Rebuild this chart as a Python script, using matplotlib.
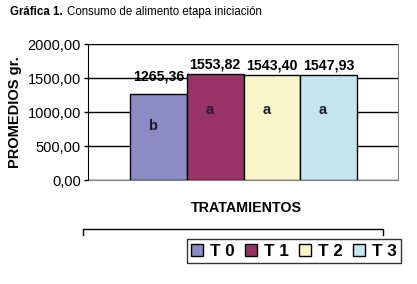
import matplotlib.pyplot as plt
from matplotlib.lines import Line2D

# datos
tratamientos = ["T 0", "T 1", "T 2", "T 3"]
promedios = [1265.36, 1553.82, 1543.40, 1547.93]
letras = ["b", "a", "a", "a"]
colores = ["#8c8cc4", "#993366", "#f8f6c8", "#c4e6f0"]
yticks = [0, 500, 1000, 1500, 2000]

plt.rcParams['font.family'] = ['Liberation Sans', 'DejaVu Sans']

fig = plt.figure(figsize=(4.17, 2.84), dpi=100)
ax = fig.add_axes([88 / 417, 1 - 180 / 284, 310 / 417, 136 / 284])

x = range(len(promedios))
bars = ax.bar(x, promedios, width=1.0, color=colores, edgecolor="black",
              linewidth=1.0, zorder=3, label=tratamientos)

ax.set_xlim(-1.24, 4.22)
ax.set_ylim(0, 2000)
ax.set_yticks(yticks)
ax.set_yticklabels([f"{v:.2f}".replace(".", ",") for v in yticks], fontsize=10.5)
ax.set_xticks([])
ax.yaxis.grid(True, color="black", linewidth=1.0)
ax.set_axisbelow(False)
ax.tick_params(axis="y", length=3, width=1, pad=2)

for s in ["top", "right", "bottom"]:
    ax.spines[s].set_color("#808080")
ax.spines["left"].set_color("black")

# valores sobre las barras
for i, v in enumerate(promedios):
    txt = f"{v:.2f}".replace(".", ",")
    off = 150 if i == 0 else 40
    ax.text(i, v + off, txt, ha="center", va="bottom", fontsize=10.2,
            fontweight="bold", zorder=1)
    ax.text(i - 0.1, v - 470 if i == 0 else v - 520, letras[i], ha="center",
            va="center", fontsize=10.5, fontweight="bold", color="#1a1a33", zorder=4)

ax.set_ylabel("PROMEDIOS gr.", fontsize=10.5, fontweight="bold", labelpad=4)

fig.text(10 / 417, 1 - 12 / 284, "Gráfica 1.", fontsize=8.3, fontweight="bold",
         va="center", ha="left")
fig.text(67 / 417, 1 - 12 / 284, "Consumo de alimento etapa iniciación", fontsize=8.3,
         va="center", ha="left")

fig.text(246 / 417, 1 - 208 / 284, "TRATAMIENTOS", fontsize=10.3, fontweight="bold",
         ha="center", va="center")

# corchete del eje
yb = 1 - 229 / 284
yt = 1 - 235 / 284
fig.add_artist(Line2D([83 / 417, 83 / 417, 383 / 417, 383 / 417], [yt, yb, yb, yt],
                      color="black", linewidth=1.0))

leg = fig.legend(bars, tratamientos, loc="center", ncol=4,
                 bbox_to_anchor=(294 / 417, 1 - 251 / 284),
                 prop={"size": 12.3, "weight": "bold"}, frameon=True, fancybox=False,
                 handlelength=0.7, handleheight=0.7, handletextpad=0.4,
                 columnspacing=0.6, borderpad=0.25, edgecolor="black")
leg.get_frame().set_linewidth(1.0)

fig.savefig("out.png", dpi=100)
